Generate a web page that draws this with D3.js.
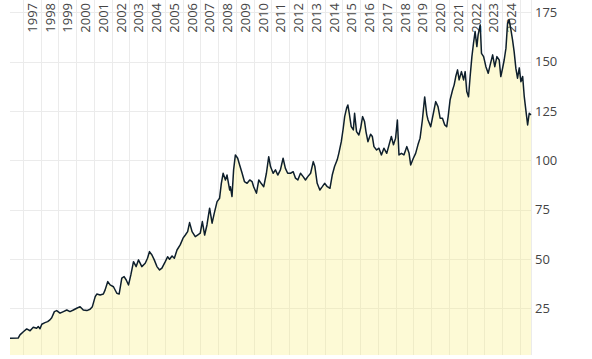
<!DOCTYPE html>
<html>
<head>
<meta charset="utf-8">
<script src="https://cdn.jsdelivr.net/npm/d3@7"></script>
<style>
body { margin: 0; background: #fff; }
.axis text { font-family: "Open Sans", sans-serif; font-size: 13px; fill: #444; }
.grid line { stroke: #ebebeb; stroke-width: 1; shape-rendering: crispEdges; }
</style>
</head>
<body>
<div id="chart"></div>
<script>

// decimal years
var dates = [1996.27, 1996.73, 1996.83, 1997.02, 1997.21, 1997.40, 1997.58, 1997.77, 1997.86, 1997.96,
    1998.06, 1998.24, 1998.39, 1998.52, 1998.62, 1998.77, 1998.90, 1999.09, 1999.28, 1999.47,
    1999.65, 1999.84, 2000.03, 2000.22, 2000.40, 2000.60, 2000.78, 2000.91, 2001.07, 2001.16,
    2001.35, 2001.53, 2001.63, 2001.78, 2001.91, 2002.10, 2002.29, 2002.42, 2002.57, 2002.70,
    2002.82, 2002.95, 2003.08, 2003.23, 2003.38, 2003.51, 2003.70, 2003.89, 2004.02, 2004.13,
    2004.27, 2004.40, 2004.55, 2004.70, 2004.83, 2005.02, 2005.15, 2005.26, 2005.40, 2005.53,
    2005.68, 2005.86, 2006.02, 2006.15, 2006.28, 2006.39, 2006.53, 2006.71, 2006.84, 2006.99,
    2007.11, 2007.24, 2007.37, 2007.52, 2007.66, 2007.78, 2007.94, 2008.08, 2008.18, 2008.28,
    2008.41, 2008.50, 2008.65, 2008.69, 2008.78, 2008.87, 2008.97, 2009.10, 2009.21, 2009.35,
    2009.48, 2009.63, 2009.78, 2009.91, 2010.00, 2010.16, 2010.29, 2010.42, 2010.57, 2010.72,
    2010.85, 2010.95, 2011.10, 2011.23, 2011.36, 2011.51, 2011.66, 2011.79, 2011.92, 2012.08,
    2012.23, 2012.36, 2012.49, 2012.64, 2012.79, 2012.92, 2013.05, 2013.21, 2013.36, 2013.45,
    2013.58, 2013.73, 2013.87, 2014.00, 2014.15, 2014.30, 2014.43, 2014.56, 2014.71, 2014.80,
    2014.94, 2015.05, 2015.13, 2015.24, 2015.31, 2015.39, 2015.50, 2015.62, 2015.69, 2015.80,
    2015.93, 2016.03, 2016.14, 2016.25, 2016.33, 2016.44, 2016.59, 2016.69, 2016.78, 2016.93,
    2017.06, 2017.20, 2017.34, 2017.50, 2017.63, 2017.76, 2017.88, 2018.00, 2018.10, 2018.19,
    2018.33, 2018.47, 2018.63, 2018.76, 2018.85, 2019.00, 2019.13, 2019.26, 2019.38, 2019.51,
    2019.64, 2019.76, 2019.83, 2019.98, 2020.13, 2020.26, 2020.39, 2020.51, 2020.64, 2020.77,
    2020.88, 2020.96, 2021.07, 2021.21, 2021.30, 2021.39, 2021.49, 2021.58, 2021.71, 2021.83,
    2021.92, 2022.01, 2022.11, 2022.20, 2022.30, 2022.39, 2022.48, 2022.58, 2022.65, 2022.77,
    2022.84, 2022.96, 2023.09, 2023.22, 2023.33, 2023.47, 2023.59, 2023.71, 2023.84, 2023.93,
    2024.03, 2024.12, 2024.22, 2024.31, 2024.40, 2024.50, 2024.59, 2024.68, 2024.78, 2024.87,
    2024.97, 2025.06, 2025.16, 2025.25, 2025.35, 2025.44, 2025.53, 2025.63];

var prices = [9.8, 9.9, 11.5, 13.1, 14.5, 13.6, 15.4, 14.9, 15.7, 14.6,
    16.9, 17.7, 18.2, 19.1, 20.2, 23.3, 23.8, 22.5, 23.3, 24.1,
    23.3, 24.1, 25.0, 25.8, 24.1, 23.8, 24.5, 25.8, 30.9, 32.2,
    31.7, 32.2, 34.3, 38.5, 36.8, 35.9, 32.6, 32.2, 40.2, 41.0,
    39.3, 36.8, 41.9, 48.6, 46.1, 49.5, 46.1, 47.8, 50.3, 53.7,
    52.0, 49.5, 46.1, 44.4, 45.3, 48.6, 51.1, 49.8, 51.5, 50.3,
    54.5, 57.1, 60.5, 62.1, 63.8, 68.4, 63.8, 61.3, 62.1, 63.0,
    68.9, 62.1, 67.2, 75.7, 68.1, 73.1, 79.0, 80.7, 88.3, 93.4,
    90.0, 92.5, 84.9, 86.6, 81.6, 95.1, 102.7, 101.0, 97.6, 93.4,
    89.2, 88.3, 90.0, 89.2, 86.6, 83.3, 90.0, 88.3, 86.6, 93.4,
    101.8, 96.8, 93.4, 95.1, 92.5, 95.1, 101.0, 95.9, 93.4, 93.4,
    94.2, 90.9, 90.0, 93.4, 91.7, 90.0, 91.7, 93.4, 99.3, 96.8,
    88.3, 84.9, 86.6, 88.3, 86.6, 85.8, 92.5, 96.8, 100.2, 103.5,
    109.4, 116.2, 122.1, 126.4, 128.0, 123.8, 117.0, 115.4, 123.8, 114.5,
    112.8, 116.2, 122.1, 119.6, 114.5, 109.4, 113.2, 112.0, 106.9, 105.2,
    106.1, 102.7, 106.1, 103.5, 107.8, 112.0, 107.8, 111.2, 120.4, 102.7,
    103.5, 102.7, 106.9, 103.5, 97.6, 101.0, 103.5, 107.8, 111.2, 120.4,
    132.1, 123.0, 120.4, 117.0, 123.8, 129.7, 127.2, 121.3, 121.3, 117.9,
    117.0, 122.1, 130.6, 135.6, 138.2, 142.4, 145.8, 140.7, 144.9, 140.7,
    144.9, 134.8, 132.2, 142.4, 152.5, 159.3, 165.2, 157.6, 163.5, 168.6,
    154.2, 152.5, 147.4, 144.1, 148.3, 153.4, 147.4, 152.5, 150.8, 142.4,
    146.6, 150.8, 156.8, 169.4, 171.1, 166.1, 161.0, 155.0, 146.4, 141.6,
    146.8, 139.8, 142.4, 132.2, 124.6, 117.9, 123.8, 123.0];

var yTicks = [25, 50, 75, 100, 125, 150, 175];
var yearLabels = d3.range(1997, 2025);

// decimal year -> Date
function toDate(y) {
    var yr = Math.floor(y);
    var start = new Date(yr, 0, 1), end = new Date(yr + 1, 0, 1);
    return new Date(+start + (y - yr) * (end - start));
}

var data = dates.map(function(d, i) {
    return { date: toDate(d), value: prices[i] };
});

var width = 592, height = 359;
var left = 10, right = 531, bottom = 355;

var svg = d3.select("#chart").append("svg")
    .attr("width", width)
    .attr("height", height);

var x = d3.scaleTime()
    .domain(d3.extent(data, function(d) { return d.date; }))
    .range([left, right]);

var y = d3.scaleLinear()
    .domain([1.3, 181.2])
    .range([bottom, 0]);

// grid
var grid = svg.append("g").attr("class", "grid");

grid.selectAll(".vgrid")
    .data(d3.range(1997, 2026).map(function(yr) { return new Date(yr, 0, 1); }))
    .enter().append("line")
    .attr("class", "vgrid")
    .attr("x1", function(d) { return Math.round(x(d)) + 0.5; })
    .attr("x2", function(d) { return Math.round(x(d)) + 0.5; })
    .attr("y1", 0)
    .attr("y2", bottom);

grid.selectAll(".hgrid")
    .data(yTicks)
    .enter().append("line")
    .attr("class", "hgrid")
    .attr("x1", left)
    .attr("x2", right)
    .attr("y1", function(d) { return Math.round(y(d)) + 0.5; })
    .attr("y2", function(d) { return Math.round(y(d)) + 0.5; });

grid.append("line")
    .attr("x1", right + 0.5).attr("x2", right + 0.5)
    .attr("y1", 0).attr("y2", bottom);

// year labels at top, centred on mid-year
var xAxis = d3.axisTop(x)
    .tickValues(yearLabels.map(function(yr) { return toDate(yr + 0.5); }))
    .tickFormat(d3.timeFormat("%Y"))
    .tickSize(0);

var gx = svg.append("g")
    .attr("class", "axis x-axis")
    .call(xAxis);
gx.select(".domain").remove();
gx.selectAll("text")
    .attr("transform", "rotate(-90)")
    .attr("x", -3)
    .attr("y", 0)
    .attr("dy", "0.35em")
    .style("text-anchor", "end");

// right y axis
var yAxis = d3.axisRight(y)
    .tickValues(yTicks)
    .tickSize(0)
    .tickPadding(4);

var gy = svg.append("g")
    .attr("class", "axis y-axis")
    .attr("transform", "translate(" + right + ",0)")
    .call(yAxis);
gy.select(".domain").remove();

// area + line
var area = d3.area()
    .x(function(d) { return x(d.date); })
    .y0(bottom)
    .y1(function(d) { return y(d.value); });

var line = d3.line()
    .x(function(d) { return x(d.date); })
    .y(function(d) { return y(d.value); });

svg.append("path")
    .datum(data)
    .attr("d", area)
    .attr("fill", "rgba(250, 238, 120, 0.3)");

svg.append("path")
    .datum(data)
    .attr("d", line)
    .attr("fill", "none")
    .attr("stroke", "#0e1f2c")
    .attr("stroke-width", 1.5)
    .attr("stroke-linejoin", "round");

</script>
</body>
</html>
